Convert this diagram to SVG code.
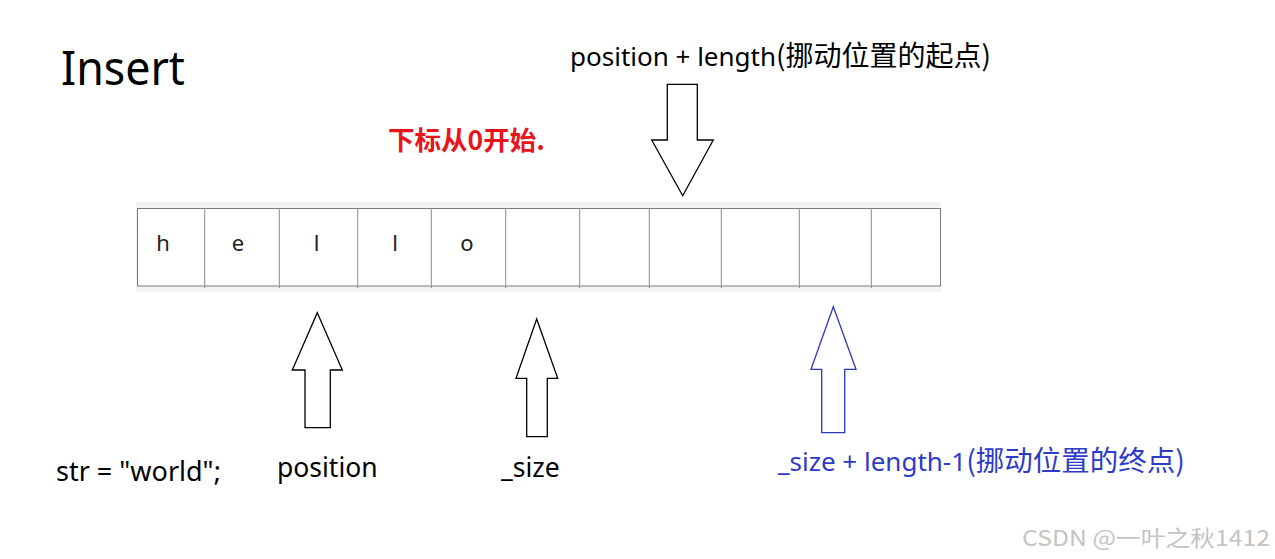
<svg xmlns="http://www.w3.org/2000/svg" width="1275" height="559" viewBox="0 0 1275 559">
<style>
text{font-family:"Noto Sans","Noto Sans CJK SC",sans-serif;}
.cjk{font-family:"Noto Sans CJK SC","Noto Sans",sans-serif;}
.lbl{font-size:26px;fill:#000;}
.cell{font-size:22px;fill:#222;text-anchor:middle;}
.div{stroke:#8e8e8e;stroke-width:1;}
.arrow{fill:#fff;stroke:#000;stroke-width:1.3;stroke-linejoin:miter;}
.arrow.blue{stroke:#2a36c4;}
</style>
<rect width="1275" height="559" fill="#fff"/>
<g id="title"><text x="61" y="85" style="font-size:48px" fill="#000" textLength="124" lengthAdjust="spacingAndGlyphs">Insert</text></g>
<g id="note"><text x="388" y="150" class="cjk" style="font-size:26.5px;font-weight:bold" fill="#e8141c">下标从0开始.</text></g>
<g id="array">
<rect x="136" y="202" width="805" height="90" fill="#f2f2f2"/>
<rect x="137.5" y="208.5" width="803" height="77.5" fill="#fff" stroke="#7a7a7a" stroke-width="1"/>
<g class="div">
<line x1="204.7" y1="208" x2="204.7" y2="288"/>
<line x1="279.3" y1="208" x2="279.3" y2="288"/>
<line x1="357.7" y1="208" x2="357.7" y2="288"/>
<line x1="431.3" y1="208" x2="431.3" y2="288"/>
<line x1="505.7" y1="208" x2="505.7" y2="288"/>
<line x1="579.7" y1="208" x2="579.7" y2="288"/>
<line x1="649.3" y1="208" x2="649.3" y2="288"/>
<line x1="721.3" y1="208" x2="721.3" y2="288"/>
<line x1="799.3" y1="208" x2="799.3" y2="288"/>
<line x1="871.3" y1="208" x2="871.3" y2="288"/>
</g>
<text class="cell" x="163" y="251">h</text>
<text class="cell" x="238" y="251">e</text>
<text class="cell" x="316.5" y="251">l</text>
<text class="cell" x="395" y="251">l</text>
<text class="cell" x="467" y="251">o</text>
</g>
<g id="start-label"><text class="lbl" x="570" y="66">position + length<tspan class="cjk" style="font-size:28px">(挪动位置的起点)</tspan></text></g>
<g id="str-label"><text class="lbl" x="56" y="481" style="font-size:27px">str = "world";</text></g>
<g id="position-label"><text class="lbl" x="277" y="477" style="font-size:26.5px">position</text></g>
<g id="size-label"><text class="lbl" x="501" y="477" style="font-size:26.5px">_size</text></g>
<g id="end-label"><text class="lbl" x="778" y="471" style="fill:#2e3bc8">_size + length-1<tspan class="cjk" style="font-size:28.5px">(挪动位置的终点)</tspan></text></g>
<g id="connectors">
<polygon class="arrow" points="667.3,84.3 697.3,84.3 697.3,140 713.3,140 682.7,195.7 651.7,140 667.3,140"/>
<polygon class="arrow" points="317.3,312.7 342.3,370 330.3,370 330.3,427.7 305,427.7 305,370 292.3,370"/>
<polygon class="arrow" points="536.7,319 557.7,378.3 547.3,378.3 547.3,436.7 526.7,436.7 526.7,378.3 516,378.3"/>
<polygon class="arrow blue" points="833.3,306.7 856,369.3 844.7,369.3 844.7,432.7 821.7,432.7 821.7,369.3 811,369.3"/>
</g>
<g id="watermark"><text x="1022" y="546" class="cjk" style="font-size:22px" fill="#c4c4c4" textLength="248" lengthAdjust="spacingAndGlyphs">CSDN @一叶之秋1412</text></g>
</svg>
